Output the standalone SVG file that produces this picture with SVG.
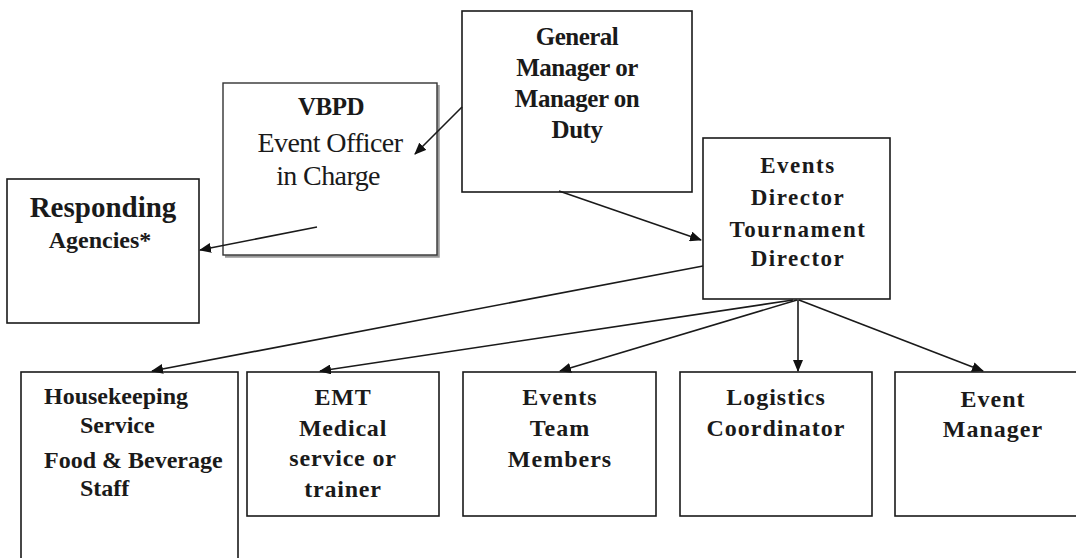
<svg xmlns="http://www.w3.org/2000/svg" width="1076" height="558" viewBox="0 0 1076 558">
<style>
.box{fill:#fff;stroke:#1a1a1a;stroke-width:1.6}
.t{font-family:"Liberation Serif","Times New Roman",serif;fill:#1a1a1a;text-anchor:middle}
.b{font-weight:bold}
.l{text-anchor:start}
.c{stroke:#1a1a1a;stroke-width:1.6;fill:none;marker-end:url(#ah)}
</style>
<defs>
<marker id="ah" viewBox="0 0 12 10" refX="11" refY="5" markerWidth="12" markerHeight="10" markerUnits="userSpaceOnUse" orient="auto">
<path d="M0,0 L12,5 L0,10 Z" fill="#111"/>
</marker>
</defs>
<rect width="1076" height="558" fill="#fff"/>

<g id="gm">
<rect class="box" x="462" y="11" width="230" height="181"/>
<text class="t b" font-size="25" letter-spacing="-0.5" x="577" y="45">General</text>
<text class="t b" font-size="25" letter-spacing="-0.5" x="577" y="76">Manager or</text>
<text class="t b" font-size="25" letter-spacing="-0.5" x="577" y="107">Manager on</text>
<text class="t b" font-size="25" letter-spacing="-0.5" x="577" y="138">Duty</text>
</g>

<g id="vbpd">
<path d="M225,256.5 H438.5 V85" fill="none" stroke="#999" stroke-width="2.5"/>
<rect x="223" y="83" width="214" height="172" fill="#fff" stroke="#333" stroke-width="1.4"/>
<text class="t b" font-size="25" letter-spacing="-0.5" x="331" y="115">VBPD</text>
<text class="t" font-size="28" letter-spacing="-0.6" x="330" y="152">Event Officer</text>
<text class="t" font-size="28" letter-spacing="-0.6" x="328" y="185">in Charge</text>
</g>

<g id="responding">
<rect class="box" x="7" y="179" width="192" height="144"/>
<text class="t b" font-size="29" x="103" y="217">Responding</text>
<text class="t b" font-size="24" x="100" y="248">Agencies*</text>
</g>

<g id="events-director">
<rect class="box" x="703" y="138" width="187" height="161"/>
<text class="t b" font-size="23" letter-spacing="1.5" x="798" y="173">Events</text>
<text class="t b" font-size="23" letter-spacing="1.5" x="798" y="205">Director</text>
<text class="t b" font-size="23" letter-spacing="1.5" x="798" y="237">Tournament</text>
<text class="t b" font-size="23" letter-spacing="1.5" x="798" y="266">Director</text>
</g>

<g id="housekeeping">
<rect class="box" x="21" y="372" width="217" height="200"/>
<text class="t b l" font-size="24" x="44" y="404">Housekeeping</text>
<text class="t b l" font-size="24" x="80" y="433">Service</text>
<text class="t b l" font-size="24" x="44" y="468">Food &amp; Beverage</text>
<text class="t b l" font-size="24" x="80" y="496">Staff</text>
</g>

<g id="emt">
<rect class="box" x="247" y="372" width="192" height="144"/>
<text class="t b" font-size="24" letter-spacing="0.8" x="343" y="405">EMT</text>
<text class="t b" font-size="24" letter-spacing="0.8" x="343" y="436">Medical</text>
<text class="t b" font-size="24" letter-spacing="0.8" x="343" y="466">service or</text>
<text class="t b" font-size="24" letter-spacing="0.8" x="343" y="497">trainer</text>
</g>

<g id="events-team">
<rect class="box" x="463" y="372" width="193" height="144"/>
<text class="t b" font-size="24" letter-spacing="1" x="560" y="405">Events</text>
<text class="t b" font-size="24" letter-spacing="1" x="560" y="436">Team</text>
<text class="t b" font-size="24" letter-spacing="1" x="560" y="467">Members</text>
</g>

<g id="logistics">
<rect class="box" x="680" y="372" width="192" height="144"/>
<text class="t b" font-size="24" letter-spacing="1" x="776" y="405">Logistics</text>
<text class="t b" font-size="24" letter-spacing="1" x="776" y="436">Coordinator</text>
</g>

<g id="event-manager">
<rect class="box" x="895" y="372" width="200" height="144"/>
<text class="t b" font-size="24" letter-spacing="1" x="993" y="407">Event</text>
<text class="t b" font-size="24" letter-spacing="1" x="993" y="437">Manager</text>
</g>

<g id="connectors">
<line class="c" x1="462" y1="107" x2="415" y2="154"/>
<line class="c" x1="317" y1="227" x2="200" y2="250"/>
<line class="c" x1="559" y1="191" x2="701" y2="240"/>
<line class="c" x1="703" y1="266" x2="152" y2="371"/>
<line class="c" x1="793" y1="300" x2="320" y2="371"/>
<line class="c" x1="797" y1="300" x2="560" y2="371"/>
<line class="c" x1="798" y1="300" x2="798" y2="371" stroke="#555" stroke-width="2.2"/>
<line class="c" x1="799" y1="300" x2="983" y2="371"/>
</g>
</svg>
